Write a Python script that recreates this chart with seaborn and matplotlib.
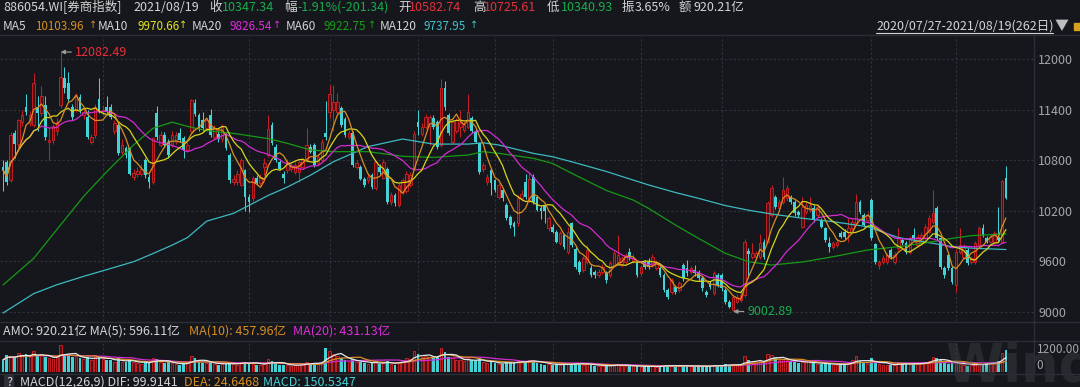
import numpy as np
import pandas as pd
import matplotlib
matplotlib.use("Agg")
import matplotlib.pyplot as plt
import seaborn as sns
from matplotlib.lines import Line2D
from matplotlib.patches import Rectangle

# ---------------- data ----------------
opens = [10720, 10780, 10560, 11120, 10990, 11250, 11430, 11240, 11215, 11430,
         11355, 11450, 11020, 11040, 11140, 11450, 11770, 11710, 11430, 11395,
         11550, 11330, 11310, 11020, 11100, 11530, 11380, 11430, 11430, 11140,
         11215, 10900, 10940, 10940, 10600, 10640, 10640, 10800, 10600, 10545,
         11360, 10980, 11100, 11020, 10980, 11020, 11120, 11060, 10920, 11140,
         11480, 11330, 11270, 11180, 11335, 11080, 11110, 11050, 11100, 10860,
         10540, 10540, 10510, 10680, 10365, 10345, 10583, 10525, 10720, 10860,
         11220, 10960, 10780, 10640, 10680, 10690, 10660, 10660, 10720, 10800,
         10960, 10980, 10760, 10800, 11120, 11375, 11395, 11375, 11415, 11290,
         11080, 11120, 10720, 10720, 10580, 10560, 10620, 10465, 10720, 10590,
         10700, 10300, 10385, 10270, 10420, 10430, 10500, 10700, 11255, 11115,
         11195, 11200, 11295, 11255, 10980, 11650, 11335, 11020, 11140, 11195,
         11160, 11195, 11295, 11140, 10998, 10690, 10540, 10680, 10560, 10365,
         10445, 10270, 10130, 10050, 10050, 10350, 10545, 10325, 10600, 10365,
         10230, 10250, 9990, 10010, 9950, 9810, 9910, 9710, 10050, 9750,
         9590, 9495, 9595, 9523, 9475, 9436, 9475, 9455, 9436, 9555,
         9594, 9555, 9594, 9713, 9600, 9574, 9456, 9594, 9594, 9555,
         9515, 9515, 9436, 9258, 9238, 9297, 9258, 9555, 9515, 9475,
         9495, 9475, 9396, 9238, 9337, 9218, 9436, 9436, 9258, 9119,
         9020, 9119, 9139, 9198, 9720, 9653, 9653, 9653, 9832, 9832,
         10148, 10365, 10227, 10306, 10346, 10365, 10306, 10188, 10010, 10188,
         10207, 10227, 10148, 10088, 9990, 9820, 9772, 9792, 9930, 9950,
         9950, 9990, 10049, 10306, 10148, 10088, 10326, 9800, 9554, 9594,
         9594, 9733, 9594, 9752, 9851, 9812, 9713, 9910, 9792, 9832,
         9871, 9950, 10069, 10227, 9871, 9515, 9673, 9523, 9317, 9713,
         9653, 9733, 9594, 9594, 9792, 9990, 9871, 9832, 9832, 9891,
         9832, 10582.74]
highs = [10800, 10800, 11130, 11160, 11290, 11400, 11590, 11380, 11830, 11560,
         11680, 11560, 11180, 11230, 11300, 12082.49, 11910, 11850, 11470, 11600,
         11580, 11420, 11390, 11110, 11460, 11770, 11450, 11560, 11470, 11280,
         11240, 11050, 10970, 10960, 10700, 10720, 10750, 10830, 10640, 11080,
         11440, 11140, 11130, 11050, 11150, 11130, 11180, 11090, 11020, 11530,
         11520, 11360, 11370, 11300, 11410, 11220, 11150, 11230, 11130, 10880,
         10620, 10680, 10830, 10700, 10400, 10610, 10620, 10640, 10820, 11330,
         11250, 10990, 10810, 10670, 10810, 10760, 10780, 10800, 10830, 11180,
         10990, 11000, 10870, 11050, 11500, 11690, 11690, 11600, 11440, 11310,
         11160, 11140, 10800, 10740, 10600, 10640, 10650, 10800, 10750, 10810,
         10720, 10420, 10410, 10530, 10590, 10670, 10660, 11140, 11390, 11240,
         11350, 11330, 11330, 11280, 11760, 11740, 11360, 11280, 11300, 11400,
         11260, 11590, 11320, 11170, 11020, 10780, 10640, 10700, 10580, 10530,
         10470, 10290, 10150, 10080, 10380, 10440, 10640, 10660, 10630, 10390,
         10260, 10280, 10140, 10040, 9970, 9960, 9940, 10000, 10070, 9770,
         9610, 9660, 9790, 9550, 9500, 9510, 9570, 9480, 9600, 9720,
         9910, 9660, 9700, 9760, 9680, 9600, 9560, 9620, 9640, 9680,
         9620, 9540, 9460, 9280, 9400, 9320, 9360, 9580, 9610, 9540,
         9560, 9500, 9420, 9260, 9360, 9480, 9460, 9460, 9280, 9140,
         9200, 9210, 9230, 9860, 9760, 9810, 9720, 9920, 9860, 10310,
         10500, 10390, 10340, 10600, 10500, 10390, 10330, 10210, 10366, 10300,
         10366, 10266, 10280, 10110, 10010, 9890, 9840, 9860, 9960, 9980,
         10110, 10100, 10400, 10330, 10170, 10180, 10350, 9820, 9620, 9670,
         9700, 9760, 9710, 9990, 9880, 9840, 9900, 9990, 9920, 9950,
         10040, 10150, 10445, 10250, 9890, 9540, 9700, 9540, 9740, 9990,
         9800, 9760, 9660, 9840, 10020, 10040, 9900, 9920, 9960, 10247,
         10560, 10725.61]
lows = [10430, 10500, 10540, 10830, 10960, 11200, 11330, 11200, 11190, 11140,
        11320, 11040, 10800, 10990, 11100, 11420, 11600, 11500, 11280, 11370,
        11360, 11290, 11050, 10990, 11060, 11360, 11330, 11340, 11290, 11110,
        10860, 10870, 10820, 10620, 10560, 10600, 10610, 10590, 10465, 10520,
        11040, 10950, 10950, 10830, 10960, 10990, 11010, 10830, 10900, 11120,
        11320, 11150, 11150, 11150, 11080, 11050, 11020, 11020, 10920, 10530,
        10500, 10510, 10490, 10190, 10188, 10320, 10500, 10500, 10620, 10840,
        10980, 10780, 10680, 10530, 10650, 10660, 10630, 10540, 10700, 10780,
        10880, 10720, 10740, 10780, 11040, 11300, 11140, 11350, 11190, 11080,
        11050, 10720, 10690, 10560, 10480, 10530, 10460, 10440, 10640, 10570,
        10280, 10270, 10260, 10240, 10400, 10410, 10480, 10680, 11100, 11090,
        11170, 10980, 11170, 10930, 10950, 11400, 11100, 11000, 11120, 11080,
        11130, 11170, 11120, 11000, 10640, 10660, 10510, 10380, 10420, 10340,
        10320, 10090, 9990, 9900, 10020, 10320, 10340, 10300, 10280, 10190,
        10100, 10050, 9960, 9930, 9810, 9790, 9750, 9690, 9770, 9510,
        9450, 9470, 9570, 9410, 9400, 9410, 9450, 9340, 9410, 9530,
        9570, 9530, 9570, 9610, 9580, 9410, 9430, 9510, 9510, 9530,
        9490, 9410, 9230, 9150, 9210, 9210, 9230, 9370, 9430, 9450,
        9430, 9370, 9250, 9170, 9270, 9200, 9290, 9250, 9090, 9040,
        9002.89, 9100, 9120, 9180, 9400, 9630, 9630, 9630, 9630, 9810,
        10120, 10220, 10200, 10280, 10320, 10280, 10140, 10120, 9990, 10160,
        10180, 10060, 10120, 9990, 9830, 9710, 9750, 9770, 9870, 9860,
        9830, 9970, 10030, 10160, 10000, 10060, 9850, 9570, 9510, 9570,
        9570, 9630, 9570, 9730, 9790, 9690, 9690, 9850, 9770, 9810,
        9850, 9930, 10040, 9850, 9510, 9400, 9490, 9330, 9238, 9690,
        9630, 9550, 9570, 9570, 9770, 9890, 9810, 9810, 9810, 9830,
        9810, 10340.93]
closes = [10680, 10540, 11100, 10990, 11270, 11330, 11375, 11330, 11710, 11355,
          11560, 11075, 11040, 11200, 11250, 11790, 11650, 11530, 11310, 11570,
          11395, 11375, 11075, 11080, 11430, 11395, 11400, 11375, 11310, 11240,
          10880, 10980, 10860, 10640, 10650, 10670, 10700, 10620, 10545, 11060,
          11080, 11100, 10980, 10860, 11100, 11100, 11040, 10920, 10980, 11510,
          11350, 11180, 11180, 11270, 11100, 11180, 11050, 11190, 10940, 10560,
          10580, 10640, 10800, 10365, 10306, 10583, 10525, 10600, 10760, 11170,
          11000, 10800, 10700, 10590, 10780, 10730, 10740, 10780, 10800, 10980,
          10900, 10740, 10840, 11020, 11080, 11590, 11490, 11490, 11215, 11100,
          11120, 10740, 10760, 10580, 10500, 10600, 10480, 10780, 10660, 10780,
          10300, 10385, 10290, 10500, 10560, 10640, 10620, 11115, 11195, 11195,
          11315, 11310, 11195, 10960, 11650, 11430, 11120, 11255, 11275, 11235,
          11215, 11375, 11140, 11020, 10663, 10740, 10600, 10525, 10445, 10500,
          10345, 10110, 10030, 10010, 10350, 10400, 10365, 10580, 10306, 10210,
          10190, 10190, 10110, 9950, 9830, 9930, 9770, 9950, 9790, 9535,
          9475, 9635, 9730, 9436, 9436, 9475, 9535, 9380, 9574, 9693,
          9673, 9633, 9673, 9633, 9640, 9436, 9535, 9535, 9535, 9653,
          9594, 9436, 9258, 9179, 9376, 9238, 9337, 9396, 9455, 9515,
          9455, 9396, 9277, 9198, 9297, 9455, 9317, 9277, 9119, 9060,
          9178, 9178, 9198, 9832, 9680, 9693, 9693, 9812, 9653, 10286,
          10464, 10246, 10306, 10445, 10464, 10306, 10168, 10148, 10246, 10266,
          10266, 10088, 10246, 10010, 9852, 9772, 9812, 9832, 9891, 9891,
          9990, 10069, 10306, 10188, 10029, 10148, 9871, 9594, 9594, 9641,
          9673, 9653, 9673, 9891, 9812, 9713, 9871, 9871, 9891, 9910,
          10010, 10108, 10168, 9871, 9535, 9436, 9515, 9357, 9713, 9792,
          9772, 9574, 9634, 9812, 9990, 9911, 9832, 9891, 9930, 9852,
          10548.68, 10347.34]
amounts = [495, 706, 640, 600, 780, 650, 720, 600, 876, 640,
           700, 620, 560, 520, 600, 1104, 760, 700, 600, 640,
           560, 520, 600, 480, 680, 620, 520, 500, 480, 420,
           560, 430, 400, 520, 400, 360, 330, 420, 380, 590,
           520, 420, 380, 400, 350, 320, 300, 340, 420, 640,
           560, 420, 380, 360, 400, 330, 300, 340, 320, 420,
           330, 300, 400, 420, 360, 380, 300, 280, 320, 520,
           440, 360, 300, 280, 290, 260, 280, 300, 320, 420,
           340, 380, 330, 420, 990, 850, 760, 640, 560, 500,
           420, 520, 400, 420, 380, 340, 380, 420, 330, 380,
           460, 330, 300, 420, 500, 560, 540, 880, 760, 620,
           640, 600, 560, 620, 1000, 820, 600, 560, 500, 480,
           440, 560, 480, 440, 560, 400, 360, 420, 380, 340,
           330, 420, 400, 360, 480, 420, 440, 500, 460, 380,
           330, 300, 340, 300, 320, 280, 300, 360, 340, 380,
           320, 300, 330, 300, 260, 240, 250, 260, 280, 300,
           320, 260, 250, 240, 230, 260, 220, 230, 210, 240,
           220, 250, 300, 270, 260, 220, 230, 300, 260, 230,
           220, 240, 260, 240, 230, 300, 260, 270, 320, 300,
           310, 280, 300, 640, 480, 400, 380, 460, 450, 750,
           700, 560, 480, 520, 500, 440, 430, 380, 420, 400,
           380, 360, 340, 330, 360, 320, 280, 300, 320, 340,
           360, 500, 640, 460, 380, 340, 560, 420, 320, 300,
           300, 290, 300, 380, 330, 320, 340, 330, 360, 380,
           400, 460, 636, 565, 500, 380, 320, 360, 420, 320,
           300, 242, 300, 330, 360, 300, 310, 420, 430, 432,
           778, 920.21]
# long moving averages (history before the window), read at these day indices
ma_idx = [0, 8, 14, 21, 27, 34, 39, 44, 48, 53, 60, 69, 74, 80, 86, 95, 104, 112,
          121, 125, 129, 138, 143, 148, 157, 164, 168, 175, 181, 188, 194, 200,
          208, 216, 225, 233, 242, 247, 252, 261]
ma60_vals = [9317, 9634, 9975, 10370, 10662, 10980, 11177, 11250, 11200, 11150,
             11117, 11055, 10999, 10920, 10900, 10900, 10845, 10832, 10860, 10900,
             10880, 10821, 10761, 10643, 10440, 10326, 10227, 10029, 9871, 9693,
             9594, 9554, 9590, 9653, 9733, 9772, 9832, 9871, 9903, 9922.75]
ma120_vals = [8985, 9215, 9320, 9420, 9500, 9594, 9690, 9790, 9880, 10075,
              10168, 10380, 10480, 10620, 10781, 10960, 11050, 10990, 10990, 11005,
              10979, 10880, 10840, 10780, 10665, 10563, 10505, 10415, 10346, 10260,
              10205, 10160, 10110, 10069, 10009, 9880, 9812, 9772, 9755, 9737.95]
price_ticks = [9000, 9600, 10200, 10800, 11400, 12000]
amount_ticks = [0, 1200]
month_start_idx = [26, 64, 85, 108, 128, 143, 166, 187, 226, 248]

# ---------------- style ----------------
BG = "#15171c"
GRID = "#30333a"
SEP = "#2b2e35"
UP_EDGE = "#c41f24"
UP_FACE = "#4a1115"
DOWN = "#45d2d6"
TXT = "#d4d4d4"
GRAY = "#a3a6ab"
RED_T = "#e8303a"
GREEN_T = "#18ad4c"
C_MA5 = "#d98e22"
C_MA10 = "#d6d61a"
C_MA20 = "#d22bd2"
C_MA60 = "#169a16"
C_MA120 = "#3db9c1"

sns.set_theme(style="dark", rc={"axes.facecolor": BG, "figure.facecolor": BG})
plt.rcParams["font.family"] = ["Noto Sans CJK SC", "DejaVu Sans"]

df = pd.DataFrame({"i": np.arange(len(closes)), "open": opens, "high": highs,
                   "low": lows, "close": closes, "amo": amounts})
df["ma5"] = df["close"].rolling(5, min_periods=1).mean()
df["ma10"] = df["close"].rolling(10, min_periods=1).mean()
df["ma20"] = df["close"].rolling(20, min_periods=1).mean()
df["vma5"] = df["amo"].rolling(5, min_periods=1).mean()
df["vma10"] = df["amo"].rolling(10, min_periods=1).mean()
df["vma20"] = df["amo"].rolling(20, min_periods=1).mean()
lma = pd.DataFrame({"i": ma_idx, "ma60": ma60_vals, "ma120": ma120_vals})
up = df["close"] >= df["open"]

W, H = 1080, 387
fig = plt.figure(figsize=(W / 100, H / 100), dpi=100)
fig.patch.set_facecolor(BG)


def rect(x0, y0, x1, y1):
    return [x0 / W, 1 - y1 / H, (x1 - x0) / W, (y1 - y0) / H]


ax = fig.add_axes(rect(0, 36, 1034, 321))
axv = fig.add_axes(rect(0, 341, 1034, 372))
XL = (-0.78, 268.3)
for a in (ax, axv):
    a.set_facecolor(BG)
    a.set_xlim(*XL)
    for s in a.spines.values():
        s.set_visible(False)
    a.set_xticks([])
    for m in month_start_idx:
        a.axvline(m, color=GRID, lw=0.8, ls=(0, (2, 2)), zorder=0)

# ---- price panel ----
ax.set_ylim(8890, 12273)
for t in price_ticks:
    ax.axhline(t, color=GRID, lw=0.8, ls=(0, (2, 2)), zorder=0)
wick_col = np.where(up, UP_EDGE, DOWN)
ax.vlines(df["i"], df["low"], df["high"], colors=wick_col, lw=0.75, zorder=2)
body_lo = np.minimum(df["open"], df["close"])
body_h = np.maximum(np.abs(df["close"] - df["open"]), 8)
ax.bar(df["i"][up], body_h[up], bottom=body_lo[up], width=0.66,
       facecolor=UP_FACE, edgecolor=UP_EDGE, linewidth=0.7, zorder=3)
ax.bar(df["i"][~up], body_h[~up], bottom=body_lo[~up], width=0.7,
       color=DOWN, linewidth=0, zorder=3)

sns.lineplot(data=lma, x="i", y="ma120", color=C_MA120, lw=0.9, ax=ax, zorder=4, legend=False)
sns.lineplot(data=lma, x="i", y="ma60", color=C_MA60, lw=0.9, ax=ax, zorder=4, legend=False)
sns.lineplot(data=df, x="i", y="ma20", color=C_MA20, lw=0.9, ax=ax, zorder=4, legend=False)
sns.lineplot(data=df, x="i", y="ma10", color=C_MA10, lw=0.9, ax=ax, zorder=4, legend=False)
sns.lineplot(data=df, x="i", y="ma5", color=C_MA5, lw=0.9, ax=ax, zorder=4, legend=False)

ax.yaxis.tick_right()
ax.set_yticks(price_ticks)
ax.set_yticklabels([str(t) for t in price_ticks])
ax.tick_params(axis="y", length=0, pad=3, labelsize=9, labelcolor=GRAY)
ax.set_xlim(*XL)
ax.set_xlabel("")
ax.set_ylabel("")

hi_i = int(np.argmax(highs))
lo_i = int(np.argmin(lows))
ax.annotate(f"{highs[hi_i]:.2f}", xy=(hi_i, highs[hi_i]), xytext=(10, 0),
            textcoords="offset points", color=RED_T, fontsize=9, va="center", ha="left",
            arrowprops=dict(arrowstyle="-|>", color="#9a9a9a", lw=0.9, mutation_scale=6,
                            shrinkA=0, shrinkB=0), zorder=6)
ax.annotate(f"{lows[lo_i]:.2f}", xy=(lo_i, lows[lo_i]), xytext=(10, 0),
            textcoords="offset points", color=GREEN_T, fontsize=9, va="center", ha="left",
            arrowprops=dict(arrowstyle="-|>", color="#9a9a9a", lw=0.9, mutation_scale=6,
                            shrinkA=0, shrinkB=0), zorder=6)

# ---- amount panel ----
axv.set_ylim(0, 1274)
axv.bar(df["i"][up], df["amo"][up], width=0.66, facecolor=UP_FACE,
        edgecolor=UP_EDGE, linewidth=0.7, zorder=2)
axv.bar(df["i"][~up], df["amo"][~up], width=0.7, color=DOWN, linewidth=0, zorder=2)
sns.lineplot(data=df, x="i", y="vma20", color=C_MA20, lw=0.9, ax=axv, zorder=3, legend=False)
sns.lineplot(data=df, x="i", y="vma10", color=C_MA5, lw=0.9, ax=axv, zorder=3, legend=False)
sns.lineplot(data=df, x="i", y="vma5", color="#e6e6e6", lw=0.9, ax=axv, zorder=3, legend=False)
axv.yaxis.tick_right()
axv.set_yticks(amount_ticks)
axv.set_yticklabels(["0", "1200.00"])
axv.tick_params(axis="y", length=0, pad=2, labelsize=8.5, labelcolor=GRAY)
labs = axv.get_yticklabels()
labs[0].set_va("bottom")
labs[1].set_va("top")
axv.set_xlim(*XL)
axv.set_xlabel("")
axv.set_ylabel("")

# ---- frame lines ----
for yy in (35, 321.5, 340.5, 373.5):
    fig.add_artist(Line2D([0, 1], [1 - yy / H] * 2, color=SEP, lw=1.0))
fig.add_artist(Line2D([1034 / W] * 2, [1 - 36 / H, 1 - 373 / H], color=SEP, lw=1.0))

# ---- header texts ----
FS = 9


def ft(x, y, s, color=TXT, **kw):
    fig.text(x / W, 1 - y / H, s, color=color, fontsize=kw.pop("fs", FS),
             va="center", ha=kw.pop("ha", "left"), **kw)


Y1 = 7.5
ft(3, Y1, "886054.WI[券商指数]")
ft(133, Y1, "2021/08/19")
ft(209, Y1, "收")
ft(222, Y1, "10347.34", GREEN_T)
ft(284, Y1, "幅")
ft(297, Y1, "-1.91%(-201.34)", GREEN_T)
ft(398, Y1, "开")
ft(409, Y1, "10582.74", RED_T)
ft(473, Y1, "高")
ft(484, Y1, "10725.61", RED_T)
ft(547, Y1, "低")
ft(561, Y1, "10340.93", GREEN_T)
ft(622, Y1, "振")
ft(635, Y1, "3.65%")
ft(679, Y1, "额")
ft(693, Y1, "920.21亿")

Y2 = 26
ma_rows = [("MA5", 3, "10103.96", 35, 93, C_MA5),
           ("MA10", 98, "9970.66", 138, 183, "#e3e31f"),
           ("MA20", 192, "9826.54", 230, 277, "#e02de0"),
           ("MA60", 286, "9922.75", 324, 372, "#19a019"),
           ("MA120", 380, "9737.95", 424, 474, "#3fc4cc")]
for name, xn, val, xv, xa, col in ma_rows:
    ft(xn, Y2, name, fs=8.6)
    ft(xv, Y2, val, col, fs=8.4)
    ft(xa, Y2 - 0.5, "↑", col, fs=7, ha="center", family="DejaVu Sans")

ft(876, Y2, "2020/07/27-2021/08/19(262日)", TXT)
fig.add_artist(Line2D([876 / W, 1053 / W], [1 - 33 / H] * 2, color=TXT, lw=0.8))
ft(1055, Y2, "▼", "#bdbdbd", fs=10)
fig.add_artist(Rectangle((1074 / W, 1 - 30 / H), 6 / W, 7 / H, color="#d6a21e",
                         transform=fig.transFigure))

Y3 = 331
ft(3, Y3, "AMO: 920.21亿 MA(5): 596.11亿")
ft(189, Y3, "MA(10): 457.96亿", C_MA5)
ft(293, Y3, "MA(20): 431.13亿", "#e02de0")

Y4 = 382
ft(6, Y4, "?", TXT, bbox=dict(boxstyle="square,pad=0.15", fc="#2c2f36", ec="none"))
ft(20, Y4, "MACD(12,26,9) DIF: 99.9141")
ft(184, Y4, "DEA: 24.6468", C_MA5)
ft(263, Y4, "MACD: 150.5347", "#45d2d6")

fig.text(945 / W, 1 - 392 / H, "Wind", fontsize=38, fontweight="bold",
         color="#50535a", alpha=0.3, va="bottom", ha="left", family="DejaVu Sans",
         zorder=0)

fig.savefig("out.png", dpi=100, facecolor=BG)
